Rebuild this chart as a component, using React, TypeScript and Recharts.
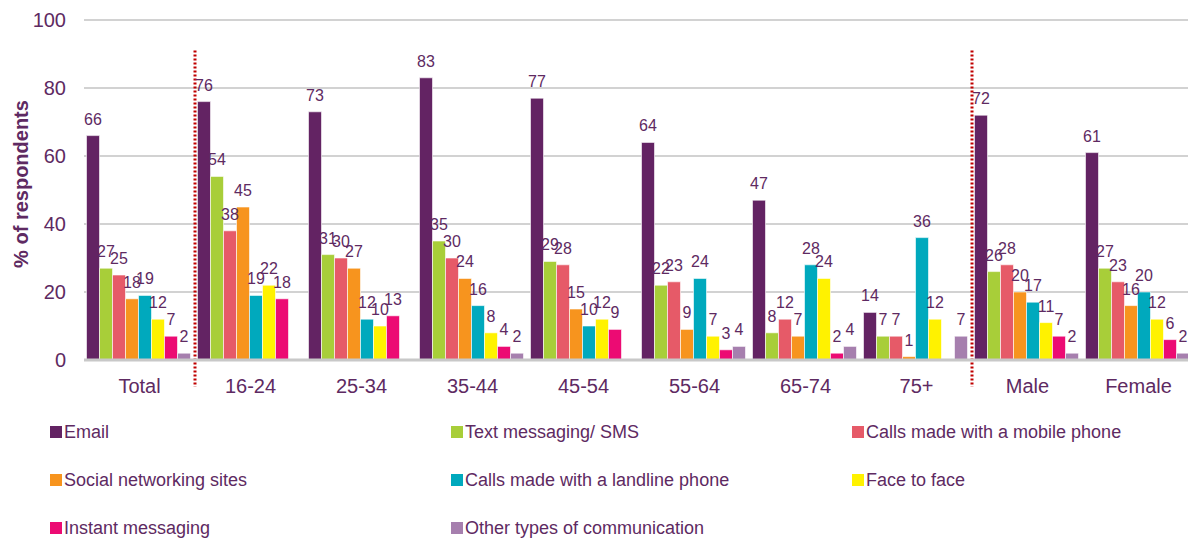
import React from 'react';
import { BarChart, Bar, XAxis, YAxis, CartesianGrid, LabelList, ReferenceLine } from 'recharts';

const categories = ['Total', '16-24', '25-34', '35-44', '45-54', '55-64', '65-74', '75+', 'Male', 'Female'];
const seriesNames = [
  'Email',
  'Text messaging/ SMS',
  'Calls made with a mobile phone',
  'Social networking sites',
  'Calls made with a landline phone',
  'Face to face',
  'Instant messaging',
  'Other types of communication',
];
const seriesColors = ['#632363', '#A8CE39', '#E65A68', '#F7941E', '#00A9BD', '#FFF200', '#EC0B73', '#A67FAE'];

const email = [66, 76, 73, 83, 77, 64, 47, 14, 72, 61];
const sms = [27, 54, 31, 35, 29, 22, 8, 7, 26, 27];
const mobile = [25, 38, 30, 30, 28, 23, 12, 7, 28, 23];
const social = [18, 45, 27, 24, 15, 9, 7, 1, 20, 16];
const landline = [19, 19, 12, 16, 10, 24, 28, 36, 17, 20];
const faceToFace = [12, 22, 10, 8, 12, 7, 24, 12, 11, 12];
const instant = [7, 18, 13, 4, 9, 3, 2, null, 7, 6];
const other = [2, null, null, 2, null, 4, 4, 7, 2, 2];

const seriesValues = [email, sms, mobile, social, landline, faceToFace, instant, other];
const yTicks = [0, 20, 40, 60, 80, 100];
const dividerAfter = ['Total', '75+'];

const keys = seriesValues.map((_, i) => `s${i}`);
const data = categories.map((c, ci) => {
  const row: Record<string, any> = { name: c };
  seriesValues.forEach((vals, si) => {
    row[keys[si]] = vals[ci];
  });
  return row;
});

const TEXT = '#5E2A62';
const FONT = '"Liberation Sans", Arial, sans-serif';

const YLabel = (props: any) => {
  const vb = props.viewBox || { x: 0, y: 0, width: 0, height: 0 };
  const cx = 21;
  const cy = vb.y + vb.height / 2 - 6;
  return (
    <text
      x={cx}
      y={cy}
      transform={`rotate(-90 ${cx} ${cy})`}
      textAnchor="middle"
      dominantBaseline="central"
      fill={TEXT}
      fontSize={20}
      fontWeight="bold"
      fontFamily={FONT}
    >
      % of respondents
    </text>
  );
};

export default function App() {
  return (
    <div style={{ position: 'absolute', left: 0, top: 0, width: 1188, height: 541, overflow: 'hidden', background: '#fff' }}>
      <BarChart
        width={1194}
        height={541}
        data={data}
        margin={{ top: 20, right: 0, bottom: 151, left: 0 }}
        barCategoryGap={2.5}
        barGap={0}
      >
        <CartesianGrid vertical={false} stroke="#D2D2D2" strokeWidth={2} />
        <XAxis
          dataKey="name"
          tickLine={false}
          tickSize={0}
          tickMargin={19}
          height={30}
          axisLine={{ stroke: '#C8C8C8', strokeWidth: 3 }}
          tick={{ fill: TEXT, fontSize: 20, fontFamily: FONT }}
          interval={0}
        />
        <YAxis
          width={84}
          domain={[0, 100]}
          ticks={yTicks}
          axisLine={false}
          tickLine={false}
          tickSize={0}
          tickMargin={18}
          tick={{ fill: TEXT, fontSize: 20, fontFamily: FONT }}
          label={{ content: YLabel }}
        />
        {keys.map((k, i) => (
          <Bar key={k} dataKey={k} name={seriesNames[i]} fill={seriesColors[i]} stroke="#ffffff" strokeWidth={0.6} isAnimationActive={false}>
            <LabelList dataKey={k} position="top" offset={11} fill={TEXT} fontSize={16} fontFamily={FONT} />
          </Bar>
        ))}
        {dividerAfter.map((d) => (
          <ReferenceLine
            key={d}
            segment={[{ x: d, y: 91 }, { x: d, y: -7.9 }]}
            position="end"
            stroke="#C00000"
            strokeWidth={3}
            strokeDasharray="2 2"
            ifOverflow="visible"
          />
        ))}
      </BarChart>
      <div style={{ position: 'absolute', left: 0, top: 418, width: 1188, fontFamily: FONT }}>
        {seriesNames.map((n, i) => {
          const col = i % 3;
          const row = Math.floor(i / 3);
          const lefts = [50, 451, 852];
          return (
            <div
              key={n}
              style={{
                position: 'absolute',
                left: lefts[col],
                top: row * 48,
                height: 28,
                display: 'flex',
                alignItems: 'center',
                whiteSpace: 'nowrap',
              }}
            >
              <span style={{ display: 'inline-block', width: 12, height: 12, background: seriesColors[i], marginRight: 2 }} />
              <span style={{ color: TEXT, fontSize: 18 }}>{n}</span>
            </div>
          );
        })}
      </div>
    </div>
  );
}
